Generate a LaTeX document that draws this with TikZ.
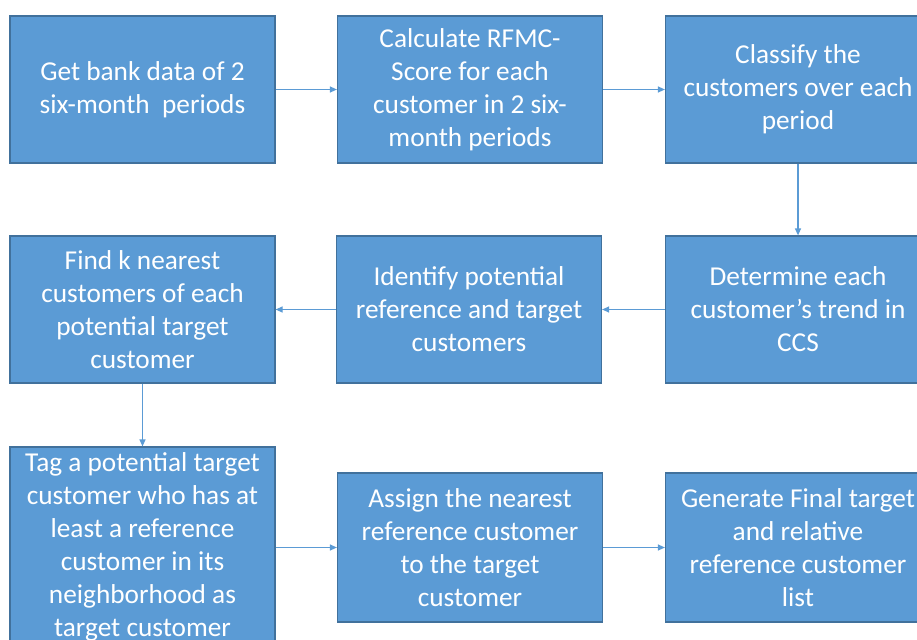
\documentclass[tikz,border=0pt]{standalone}
\usepackage{fontspec}
\setmainfont{Carlito}
\usetikzlibrary{arrows.meta}
\definecolor{boxfill}{HTML}{5B9BD5}
\definecolor{boxline}{HTML}{41719C}
\definecolor{arrowc}{HTML}{5B9BD5}
\tikzset{
  stepbox/.style={rectangle, draw=boxline, line width=1.2pt, fill=boxfill,
    text=white, align=center, minimum width=265pt, minimum height=147pt,
    inner sep=0pt, font=\fontsize{27.3}{33}\selectfont},
  conn/.style={draw=arrowc, line width=1.2pt, -{Triangle[length=7pt,width=6pt]}}
}
\begin{document}
\begin{tikzpicture}[x=1pt,y=-1pt]
\useasboundingbox (0,0) rectangle (917,639);
\clip (0,0) rectangle (917,639);
\node[stepbox] (b1) at (142.5,89.5) {Get bank data of 2\\six-month\ \ periods};
\node[stepbox] (b2) at (470,89.5) {Calculate RFMC-\\Score for each\\customer in 2 six-\\month periods};
\node[stepbox] (b3) at (798,89.5) {Classify the\\customers over each\\period};
\node[stepbox] (b4) at (142.5,309.5) {Find k nearest\\customers of each\\potential target\\customer};
\node[stepbox] (b5) at (469,309.5) {Identify potential\\reference and target\\customers};
\node[stepbox] (b6) at (798,309.5) {Determine each\\customer’s trend in\\CCS};
\node[stepbox, minimum height=200pt] (b7) at (142.5,547) {Tag a potential target\\customer who has at\\least a reference\\customer in its\\neighborhood as\\target customer};
\node[stepbox, minimum height=149pt] (b8) at (470,547.5) {Assign the nearest\\reference customer\\to the target\\customer};
\node[stepbox, minimum height=149pt] (b9) at (798,547.5) {Generate Final target\\and relative\\reference customer\\list};
\draw[conn] (b1) -- (b2);
\draw[conn] (b2) -- (b3);
\draw[conn] (b3) -- (b6);
\draw[conn] (b6) -- (b5);
\draw[conn] (b5) -- (b4);
\draw[conn] (b4) -- (b7);
\draw[conn] (b7.east |- b8) -- (b8);
\draw[conn] (b8) -- (b9);
\end{tikzpicture}
\end{document}
